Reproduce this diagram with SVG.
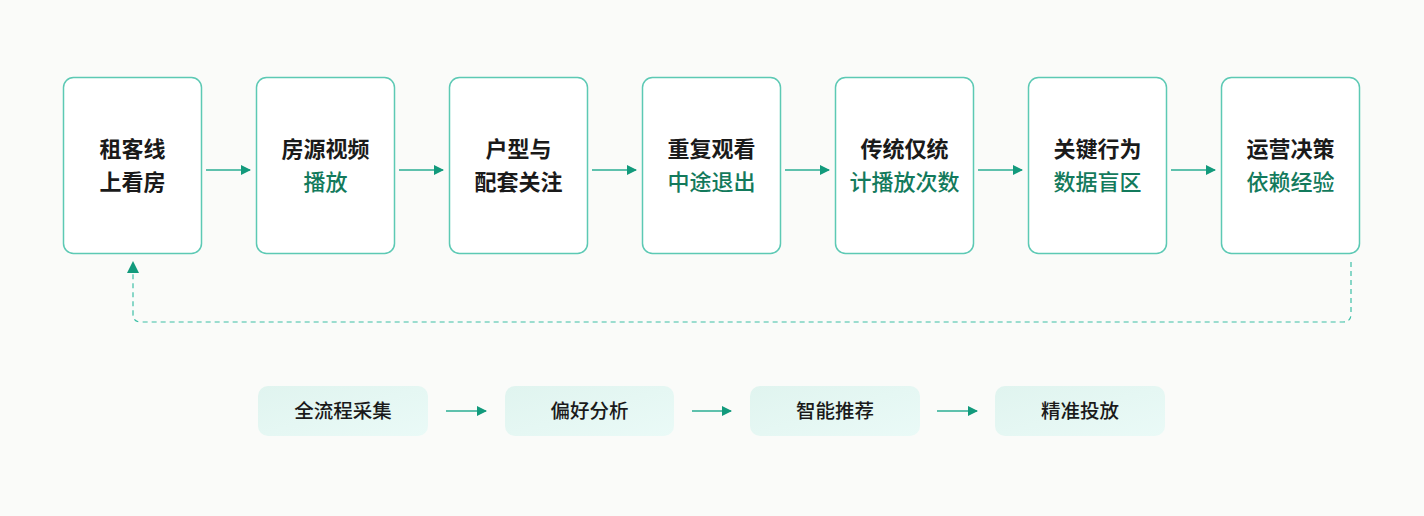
<svg xmlns="http://www.w3.org/2000/svg" width="1424" height="516" viewBox="0 0 1424 516">
<defs>
<style>
.box{fill:#ffffff;stroke:#5cc9b4;stroke-width:1.5}
.pill{fill:url(#pg)}
.t1{font-family:"Noto Sans CJK SC","Noto Sans",sans-serif;font-size:22px;font-weight:700;fill:#1a1a1a;text-anchor:middle}
.t2{font-family:"Noto Sans CJK SC","Noto Sans",sans-serif;font-size:22px;font-weight:500;fill:#137a5c;text-anchor:middle}
.tp{font-family:"Noto Sans CJK SC","Noto Sans",sans-serif;font-size:19.5px;font-weight:500;fill:#1a1a1a;text-anchor:middle}
.ln{stroke:#2aae93;stroke-width:1.6;fill:none}
.dash{stroke:#3cbfa6;stroke-width:1.2;fill:none;stroke-dasharray:5 4}
</style>
<linearGradient id="pg" x1="0" y1="0" x2="1" y2="1">
<stop offset="0" stop-color="#e0f4ef"/>
<stop offset="1" stop-color="#eafaf7"/>
</linearGradient>
<marker id="ah" viewBox="0 0 10 10" refX="9" refY="5" markerWidth="10" markerHeight="10" markerUnits="userSpaceOnUse" orient="auto">
<path d="M0,0 L10,5 L0,10 Z" fill="#129a7c"/>
</marker>
<marker id="ah2" viewBox="0 0 12 12" refX="11" refY="6" markerWidth="12" markerHeight="12" markerUnits="userSpaceOnUse" orient="auto">
<path d="M0,0 L12,6 L0,12 Z" fill="#129a7c"/>
</marker>
</defs>
<rect width="1424" height="516" fill="#fafbf9"/>
<g id="connectors">
<line class="ln" x1="206" y1="170" x2="250" y2="170" marker-end="url(#ah)"/>
<line class="ln" x1="399" y1="170" x2="443" y2="170" marker-end="url(#ah)"/>
<line class="ln" x1="592" y1="170" x2="636" y2="170" marker-end="url(#ah)"/>
<line class="ln" x1="785" y1="170" x2="829" y2="170" marker-end="url(#ah)"/>
<line class="ln" x1="978" y1="170" x2="1022" y2="170" marker-end="url(#ah)"/>
<line class="ln" x1="1171" y1="170" x2="1215" y2="170" marker-end="url(#ah)"/>
<path class="dash" d="M1351,262 V314 Q1351,322 1343,322 H141 Q133,322 133,314 V262" marker-end="url(#ah2)"/>
<line class="ln" x1="446" y1="411" x2="486" y2="411" marker-end="url(#ah)"/>
<line class="ln" x1="692" y1="411" x2="731" y2="411" marker-end="url(#ah)"/>
<line class="ln" x1="937" y1="411" x2="977" y2="411" marker-end="url(#ah)"/>
</g>
<g id="n1"><rect class="box" x="63.5" y="77.5" width="138" height="176" rx="10"/><text class="t1" x="132.5" y="157">租客线</text><text class="t1" x="132.5" y="190">上看房</text></g>
<g id="n2"><rect class="box" x="256.5" y="77.5" width="138" height="176" rx="10"/><text class="t1" x="325.5" y="157">房源视频</text><text class="t2" x="325.5" y="190">播放</text></g>
<g id="n3"><rect class="box" x="449.5" y="77.5" width="138" height="176" rx="10"/><text class="t1" x="518.5" y="157">户型与</text><text class="t1" x="518.5" y="190">配套关注</text></g>
<g id="n4"><rect class="box" x="642.5" y="77.5" width="138" height="176" rx="10"/><text class="t1" x="711.5" y="157">重复观看</text><text class="t2" x="711.5" y="190">中途退出</text></g>
<g id="n5"><rect class="box" x="835.5" y="77.5" width="138" height="176" rx="10"/><text class="t1" x="904.5" y="157">传统仅统</text><text class="t2" x="904.5" y="190">计播放次数</text></g>
<g id="n6"><rect class="box" x="1028.5" y="77.5" width="138" height="176" rx="10"/><text class="t1" x="1097.5" y="157">关键行为</text><text class="t2" x="1097.5" y="190">数据盲区</text></g>
<g id="n7"><rect class="box" x="1221.5" y="77.5" width="138" height="176" rx="10"/><text class="t1" x="1290.5" y="157">运营决策</text><text class="t2" x="1290.5" y="190">依赖经验</text></g>
<g id="p1"><rect class="pill" x="258" y="386" width="170" height="50" rx="10"/><text class="tp" x="343" y="418">全流程采集</text></g>
<g id="p2"><rect class="pill" x="505" y="386" width="169" height="50" rx="10"/><text class="tp" x="589.5" y="418">偏好分析</text></g>
<g id="p3"><rect class="pill" x="750" y="386" width="170" height="50" rx="10"/><text class="tp" x="835" y="418">智能推荐</text></g>
<g id="p4"><rect class="pill" x="995" y="386" width="170" height="50" rx="10"/><text class="tp" x="1080" y="418">精准投放</text></g>
</svg>
